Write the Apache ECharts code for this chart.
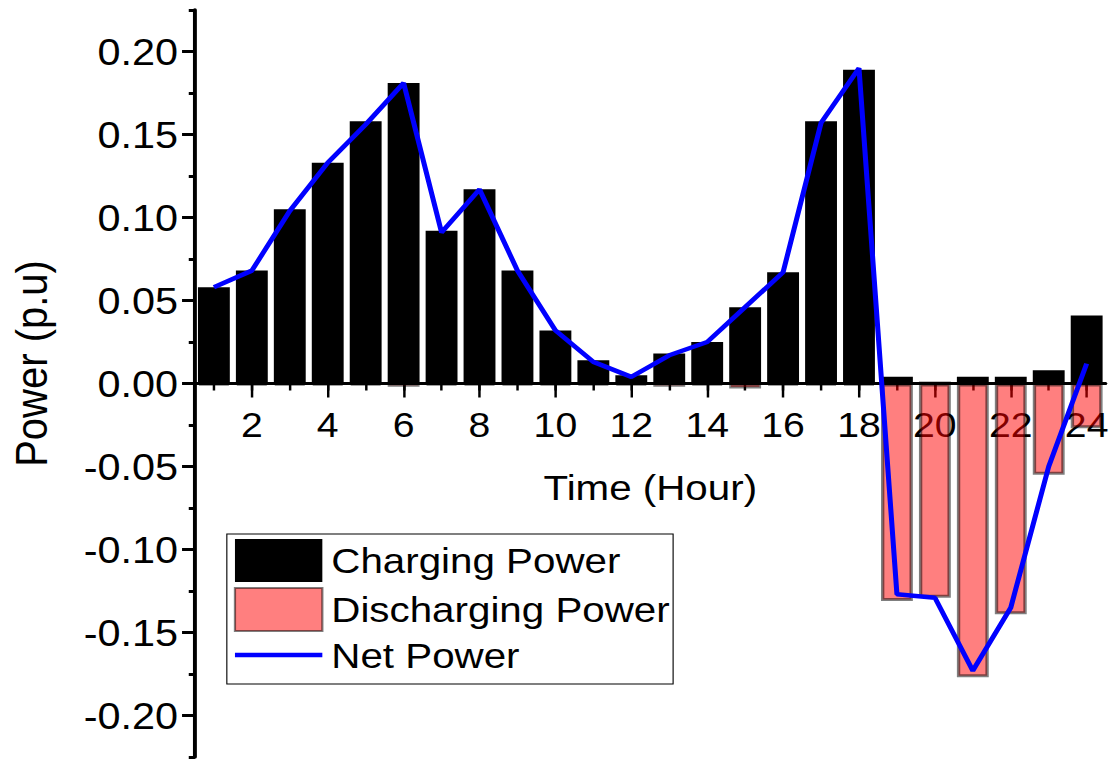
<!DOCTYPE html>
<html>
<head>
<meta charset="utf-8">
<title>Charging / Discharging Power</title>
<script src="https://cdn.jsdelivr.net/npm/echarts@6/dist/echarts.min.js"></script>
<style>
  html, body { margin: 0; padding: 0; background: #fff; overflow: hidden; }
  /* chart is laid out narrower and widened horizontally, giving the wide-set lettering */
  #chart { width: 990px; height: 760px; transform: scaleX(1.1202); transform-origin: 0 0; }
</style>
</head>
<body>
<div id="chart"></div>
<script>
// Hours of the day
const hours = ['1','2','3','4','5','6','7','8','9','10','11','12',
               '13','14','15','16','17','18','19','20','21','22','23','24'];

// Charging power per hour (p.u)
const chargingPower = [0.058, 0.068, 0.105, 0.133, 0.158, 0.181, 0.092, 0.117,
                       0.068, 0.032, 0.014, 0.005, 0.018, 0.025, 0.046, 0.067,
                       0.158, 0.189, 0.004, 0.001, 0.004, 0.004, 0.008, 0.041];

// Discharging power per hour (p.u)
const dischargingPower = [-0.001, -0.001, -0.001, -0.001, -0.001, -0.002, -0.001, -0.001,
                          -0.001, -0.001, -0.001, -0.001, -0.002, -0.001, -0.003, -0.001,
                          -0.001, -0.001, -0.131, -0.129, -0.177, -0.139, -0.055, -0.027];

// Net power per hour (p.u)
const netPower = [0.058, 0.068, 0.104, 0.133, 0.156, 0.181, 0.091, 0.117,
                  0.068, 0.032, 0.013, 0.004, 0.017, 0.025, 0.046, 0.067,
                  0.157, 0.190, -0.127, -0.129, -0.173, -0.135, -0.050, 0.012];

// Y axis: labelled (major) ticks and in-between (minor) ticks
const yMajorTicks = [-0.20, -0.15, -0.10, -0.05, 0.00, 0.05, 0.10, 0.15, 0.20];
const yMinorTicks = [-0.225, -0.175, -0.125, -0.075, -0.025, 0.025, 0.075, 0.125, 0.175, 0.225];
const yMin = -0.225, yMax = 0.225;

const FONT = "'Liberation Sans', Arial, Helvetica, sans-serif";

// plot area (layout units, before the horizontal widening)
const PLOT = { left: 174, right: 3, top: 10, bottom: 3 };
const PLOT_H = 760 - PLOT.top - PLOT.bottom;
// height from the top of the plot down to the zero line
const ZERO_FROM_TOP = PLOT_H * yMax / (yMax - yMin);

const chart = echarts.init(document.getElementById('chart'), null, { renderer: 'svg' });

const evenHour = (i) => i % 2 === 1;

chart.setOption({
  animation: false,
  backgroundColor: '#ffffff',
  textStyle: { fontFamily: FONT, color: '#000' },
  grid: [
    // bars and line
    { left: PLOT.left, right: PLOT.right, top: PLOT.top, bottom: PLOT.bottom, containLabel: false, outerBoundsMode: 'none' },
    // hour axis drawn along the zero line
    { left: PLOT.left, right: PLOT.right, top: PLOT.top, height: ZERO_FROM_TOP, containLabel: false, outerBoundsMode: 'none' }
  ],
  legend: {
    orient: 'vertical',
    left: 202.5,
    top: 534,
    padding: [5, 3, 11, 5],
    itemGap: 5,
    itemWidth: 78,
    itemHeight: 43,
    borderColor: '#000',
    borderWidth: 1,
    backgroundColor: '#fff',
    textStyle: { fontFamily: FONT, fontSize: 36, color: '#000', padding: [0, 0, 0, 3] },
    data: [
      { name: 'Charging Power', icon: 'rect' },
      { name: 'Discharging Power', icon: 'rect' },
      { name: 'Net Power', itemStyle: { opacity: 0 }, lineStyle: { color: '#0000ff', width: 4.5 } }
    ]
  },
  xAxis: [
    {
      // category scale for the series
      type: 'category',
      gridIndex: 0,
      data: hours,
      boundaryGap: true,
      show: false
    },
    {
      type: 'category',
      gridIndex: 1,
      data: hours,
      position: 'bottom',
      boundaryGap: true,
      name: 'Time (Hour)',
      nameLocation: 'middle',
      nameGap: 86,
      nameTextStyle: { fontFamily: FONT, fontSize: 36, color: '#000' },
      axisLine: { show: true, onZero: false, lineStyle: { color: '#000', width: 3 } },
      axisTick: { show: true, alignWithLabel: true, interval: evenHour, length: 14,
                  lineStyle: { color: '#000', width: 2.2 } },
      axisLabel: { interval: evenHour, margin: 24, fontFamily: FONT, fontSize: 35, color: '#000' },
      splitLine: { show: false }
    },
    {
      type: 'category',
      gridIndex: 1,
      data: hours,
      position: 'bottom',
      boundaryGap: true,
      axisLine: { show: false, onZero: false },
      axisTick: { show: true, alignWithLabel: true, interval: 0, length: 7,
                  lineStyle: { color: '#000', width: 2.2 } },
      axisLabel: { show: false },
      splitLine: { show: false }
    }
  ],
  yAxis: [
    {
      type: 'value',
      gridIndex: 0,
      position: 'left',
      min: yMin,
      max: yMax,
      name: 'Power (p.u)',
      nameLocation: 'middle',
      nameGap: 126,
      nameTextStyle: { fontFamily: FONT, fontSize: 40, color: '#000', padding: [0, 0, 0, 40] },
      axisLine: { show: true, onZero: false, lineStyle: { color: '#000', width: 3.5 } },
      axisTick: { show: true, inside: false, length: 11.5, customValues: yMajorTicks,
                  lineStyle: { color: '#000', width: 3 } },
      axisLabel: { show: true, margin: 15, customValues: yMajorTicks,
                   fontFamily: FONT, fontSize: 37, color: '#000',
                   formatter: (v) => v.toFixed(2) },
      splitLine: { show: false }
    },
    {
      type: 'value',
      gridIndex: 0,
      position: 'left',
      offset: 0,
      min: yMin,
      max: yMax,
      axisLine: { show: false, onZero: false },
      axisTick: { show: true, inside: false, length: 5.5, customValues: yMinorTicks,
                  lineStyle: { color: '#000', width: 3 } },
      axisLabel: { show: false },
      splitLine: { show: false }
    },
    {
      type: 'value',
      gridIndex: 1,
      min: 0,
      max: 1,
      show: false
    }
  ],
  series: [
    {
      name: 'Charging Power',
      type: 'bar',
      xAxisIndex: 0,
      yAxisIndex: 0,
      data: chargingPower,
      barWidth: '84%',
      barGap: '-100%',
      itemStyle: { color: '#000000' },
      z: 2
    },
    {
      name: 'Discharging Power',
      type: 'bar',
      xAxisIndex: 0,
      yAxisIndex: 0,
      data: dischargingPower,
      barWidth: '84%',
      barGap: '-100%',
      itemStyle: { color: 'rgba(255,0,0,0.5)', borderColor: 'rgba(0,0,0,0.5)', borderWidth: 3 },
      z: 3
    },
    {
      name: 'Net Power',
      type: 'line',
      xAxisIndex: 0,
      yAxisIndex: 0,
      data: netPower,
      symbol: 'none',
      showSymbol: false,
      lineStyle: { color: '#0000ff', width: 4.5 },
      itemStyle: { color: '#0000ff' },
      z: 4
    }
  ]
});
</script>
</body>
</html>
